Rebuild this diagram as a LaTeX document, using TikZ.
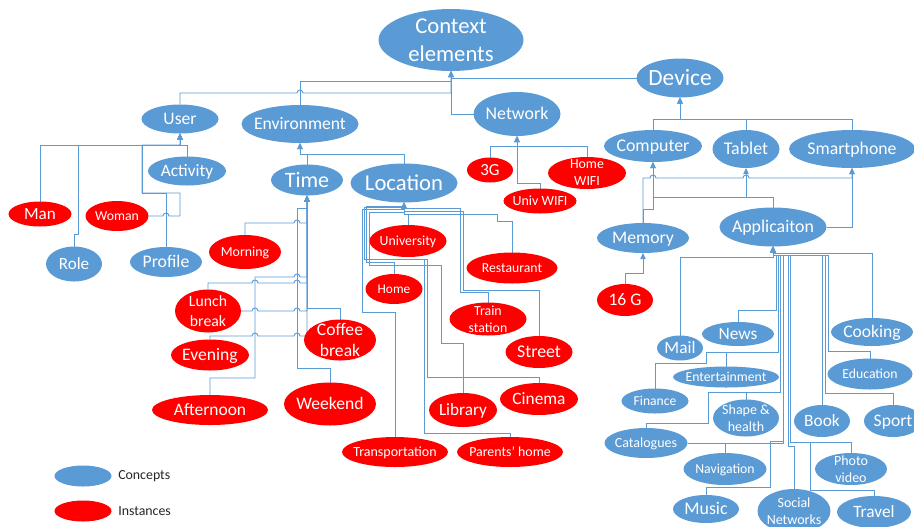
\documentclass[tikz,border=0pt]{standalone}
\usepackage{fontspec}
\setmainfont{Carlito}
\usetikzlibrary{shapes.geometric,arrows.meta,backgrounds}
\definecolor{cblue}{HTML}{5B9BD5}
\definecolor{cred}{HTML}{FF0000}
\definecolor{lblue}{HTML}{5B9BD5}
\definecolor{legtext}{HTML}{262626}
\newcommand\fs[1]{\pgfmathsetlengthmacro\fsbs{#1*1.22pt}\fontsize{#1pt}{\fsbs}\selectfont}
% single-line ellipse: style, name, x, y, w, h, font size, text
\newcommand\el[8]{%
  \pgfmathsetlengthmacro\elw{#5*0.75pt}%
  \pgfmathsetlengthmacro\elh{#6*0.75pt}%
  \pgfmathsetlengthmacro\elt{#7*0.64pt}%
  \node[#1, minimum width=\elw, minimum height=\elh,
    label={[lbl, font=\fs{#7}, text height=\elt, text depth=0pt]center:#8}] (#2) at (#3,#4) {};}
% multi-line ellipse
\newcommand\elm[8]{%
  \pgfmathsetlengthmacro\elw{#5*0.75pt}%
  \pgfmathsetlengthmacro\elh{#6*0.75pt}%
  \node[#1, minimum width=\elw, minimum height=\elh,
    label={[lbl, font=\fs{#7}]center:#8}] (#2) at (#3,#4) {};}
\tikzset{
  con/.style={ellipse, fill=cblue, draw=none, inner sep=0pt, outer sep=0pt},
  ins/.style={ellipse, fill=cred, draw=none, inner sep=0pt, outer sep=0pt},
  lbl/.style={text=white, align=center, inner sep=0pt},
  cn/.style={draw=lblue, line width=0.7pt, -{Triangle[length=4.5pt,width=4pt]}},
  legtxt/.style={text=legtext, font=\fs{10.4}, anchor=west, inner sep=0pt},
  hopr/.style={start angle=180, end angle=360, radius=3},
  hopl/.style={start angle=0, end angle=-180, radius=3}
}
\begin{document}
\begin{tikzpicture}[x=0.75pt, y=-0.75pt]
\useasboundingbox (0,0) rectangle (914,526);
% ---------- concepts ----------
\elm{con}{ctx}{451}{40}{145}{62}{17}{Context\\elements}
\el{con}{dev}{680}{78}{87}{39}{17.5}{Device}
\el{con}{user}{180}{119}{77}{29}{13.2}{User}
\el{con}{env}{300}{124}{117}{38}{13.2}{Environment}
\el{con}{net}{517}{114}{87}{44}{13.4}{Network}
\el{con}{act}{187}{171}{78}{29}{13}{Activity}
\el{con}{time}{307}{180}{72}{31}{16.5}{Time}
\el{con}{loc}{404}{183}{107}{39}{17}{Location}
\el{con}{role}{74}{264}{56}{35}{12.8}{Role}
\el{con}{prof}{166}{262}{72}{30}{13.3}{Profile}
\el{con}{comp}{653}{146}{98}{32}{13.4}{Computer}
\el{con}{tab}{746}{149}{67}{38}{13.4}{Tablet}
\el{con}{smart}{852}{149}{126}{38}{13.3}{Smartphone}
\el{con}{mem}{643}{238}{92}{30}{13.3}{Memory}
\el{con}{app}{773}{227}{107}{39}{13.4}{Applicaiton}
\el{con}{mail}{680}{348}{46}{25}{13}{Mail}
\el{con}{news}{738}{334}{72}{24}{13}{News}
\el{con}{cook}{872}{332}{82}{28}{13.2}{Cooking}
\el{con}{ent}{726}{377}{106}{21}{10.3}{Entertainment}
\el{con}{edu}{870}{374}{85}{31}{10.3}{Education}
\el{con}{fin}{655}{401}{67}{25}{10.2}{Finance}
\elm{con}{shape}{746}{418}{66}{37}{10.5}{Shape \&\\health}
\el{con}{book}{822}{421}{56}{32}{13}{Book}
\el{con}{sport}{893}{421}{58}{32}{13.2}{Sport}
\el{con}{cat}{646}{443}{83}{30}{10.5}{Catalogues}
\el{con}{nav}{725}{469}{83}{32}{10.3}{Navigation}
\elm{con}{photo}{851}{469}{72}{32}{10.5}{Photo\\video}
\el{con}{music}{706}{509}{66}{28}{13.4}{Music}
\elm{con}{soc}{794}{511}{73}{44}{10.5}{Social\\Networks}
\el{con}{travel}{874}{512}{74}{32}{13}{Travel}
% ---------- instances ----------
\el{ins}{man}{40}{214}{63}{25}{12.8}{Man}
\el{ins}{woman}{117}{216}{63}{30}{10.3}{Woman}
\el{ins}{morn}{245}{252}{72}{34}{10.4}{Morning}
\elm{ins}{lunch}{208}{311}{66}{43}{11.8}{Lunch\\break}
\el{ins}{even}{210}{355}{78}{31}{13.2}{Evening}
\elm{ins}{coffee}{340}{340}{72}{41}{13.2}{Coffee\\break}
\el{ins}{aft}{210}{410}{116}{30}{13.1}{Afternoon}
\el{ins}{week}{330}{404}{92}{43}{13.2}{Weekend}
\el{ins}{univ}{408}{241}{77}{32}{10.4}{University}
\el{ins}{home}{394}{289}{57}{30}{10}{Home}
\el{ins}{rest}{512}{268}{91}{31}{10.3}{Restaurant}
\elm{ins}{train}{488}{319}{77}{33}{10.4}{Train\\station}
\el{ins}{street}{539}{352}{67}{32}{13.4}{Street}
\el{ins}{cin}{539}{399}{78}{32}{13}{Cinema}
\el{ins}{lib}{463}{410}{68}{34}{12.9}{Library}
\el{ins}{trans}{395}{452}{106}{30}{10.5}{Transportation}
\el{ins}{par}{510}{452}{106}{30}{10.4}{Parents’ home}
\el{ins}{g3}{490}{170}{46}{25}{12.7}{3G}
\elm{ins}{hwifi}{587}{173}{78}{32}{10.4}{Home\\WIFI}
\el{ins}{uwifi}{540}{201}{73}{25}{10.5}{Univ WIFI}
\el{ins}{g16}{625}{300}{56}{32}{13.2}{16 G}
% ---------- legend ----------
\node[con, minimum width=42.75pt, minimum height=15.75pt] (legc) at (83,476) {};
\node[ins, minimum width=42.75pt, minimum height=15.75pt] (legi) at (83,511) {};
\node[legtxt] (legct) at (118,476) {Concepts};
\node[legtxt] (legit) at (118,511) {Instances};
% ---------- connectors ----------
\begin{scope}[on background layer]
% Context elements
\draw[cn] (user.north) |- (297,93) arc[hopr] -- (451,93) -- (ctx.south);
\draw[cn] (env.north) |- (451,81) -- (ctx.south);
\draw[cn] (net.west) -| (ctx.south);
\draw[cn] (dev.west) -| (ctx.south);
% Device
\draw[cn] (comp.north) |- (680,119) -- (dev.south);
\draw[cn] (tab.north) |- (680,119) -- (dev.south);
\draw[cn] (smart.north) |- (680,119) -- (dev.south);
% Network
\draw[cn] (g3.north) |- (517,146) -- (net.south);
\draw[cn] (hwifi.north) |- (517,146) -- (net.south);
\draw[cn] (uwifi.north) |- (517,183) -- (net.south);
% Computer / Tablet / Smartphone
\draw[cn] (mem.north) -- (643,209) -| (comp.south);
\draw[cn] (mem.north) |- (650,178) arc[hopr] -- (743,178) arc[hopr] -- (852,178) -- (smart.south);
\draw[cn] (app.north) |- (653,197) -- (comp.south);
\draw[cn] (app.north) |- (746,197) -- (tab.south);
\draw[cn] (app.east) -| (smart.south);
% Memory
\draw[cn] (g16.north) |- (643,273) -- (mem.south);
% User
\draw[cn] (man.north) |- (180,145) -- (user.south);
\draw[cn] (role.north) -- (74,234) -- (78,234) |- (180,145) -- (user.south);
\draw[cn] (act.north) |- (180,145) -- (user.south);
\draw[cn] (woman.east) -- (163,216) arc[hopr] -- (180,216) -- (180,193) -- (142,193) |- (180,145) -- (user.south);
\draw[cn] (prof.north) |- (142,193) |- (180,145) -- (user.south);
% Environment
\draw[cn] (time.north) |- (300,154) -- (env.south);
\draw[cn] (loc.north) |- (300,154) -- (env.south);
% Time
\draw[cn] (morn.north) |- (294,223) arc[hopr] -- (307,223) -- (time.south);
\draw[cn] (week.north) |- (297,368) -- (297,208) -- (307,208) -- (time.south);
\draw[cn] (aft.north) |- (255,378) -- (255,277) -- (294,277) arc[hopr] -- (307,277) -- (time.south);
\draw[cn] (lunch.north) |- (252,283) arc[hopr] -- (294,283) arc[hopr] -- (307,283) -- (time.south);
\draw[cn] (lunch.east) -- (252,311) arc[hopr] -- (294,311) arc[hopr] -- (307,311) -- (time.south);
\draw[cn] (even.north) |- (252,336) arc[hopr] -- (294,336) arc[hopr] -- (307,336) -- (time.south);
\draw[cn] (coffee.north) |- (307,308) -- (time.south);
% Location
\draw[cn] (univ.north) |- (404,214) -- (loc.south);
\draw[cn] (home.north) |- (366,262) -- (366,206) -- (404,206) -- (loc.south);
\draw[cn] (trans.north) |- (362,312) -- (362,209) -- (404,209) -- (loc.south);
\draw[cn] (lib.north) |- (441,343) -- (441,265) -- (369,265) -- (369,212) -- (404,212) -- (loc.south);
\draw[cn] (cin.north) |- (427,377) -- (427,259) -- (364,259) -- (364,207.5) -- (404,207.5) -- (loc.south);
\draw[cn] (par.north) |- (424,433) -- (424,259) -- (364,259) -- (364,207.5) -- (404,207.5) -- (loc.south);
\draw[cn] (rest.north) -- (512,221) -- (497,221) -- (497,214) -| (loc.south);
\draw[cn] (train.north) |- (460,292) -- (460,208) -| (loc.south);
\draw[cn] (street.north) |- (463,290) -- (463,211) -| (loc.south);
% Applicaiton
\draw[cn] (mail.north) |- (773,257) -- (app.south);
\draw[cn] (news.north) |- (776,310) |- (773,255) -- (app.south);
\draw[cn] (ent.north) |- (778,352) |- (773,255) -- (app.south);
\draw[cn] (fin.north) |- (706,363) -- (706,352) -- (778,352) |- (773,255) -- (app.south);
\draw[cn] (shape.north) |- (780,392) |- (773,255) -- (app.south);
\draw[cn] (cat.north) |- (708,423) -- (708,392) -- (780,392) |- (773,255) -- (app.south);
\draw[cn] (cat.east) -- (783,443) |- (773,255) -- (app.south);
\draw[cn] (nav.north) |- (783,443) |- (773,255) -- (app.south);
\draw[cn] (music.north) |- (770,487) -- (770,441) -- (783,441) |- (773,255) -- (app.south);
\draw[cn] (soc.north) |- (788,446) |- (773,255) -- (app.south);
\draw[cn] (photo.north) |- (790,442) |- (773,255) -- (app.south);
\draw[cn] (travel.north) |- (810,490) -- (810,442) -- (790,442) |- (773,255) -- (app.south);
\draw[cn] (book.north) |- (773,255) -- (app.south);
\draw[cn] (sport.north) |- (825,393) |- (773,255) -- (app.south);
\draw[cn] (edu.north) |- (828,351) |- (773,255) -- (app.south);
\draw[cn] (cook.north) |- (773,253) -- (app.south);
\end{scope}
\end{tikzpicture}
\end{document}
